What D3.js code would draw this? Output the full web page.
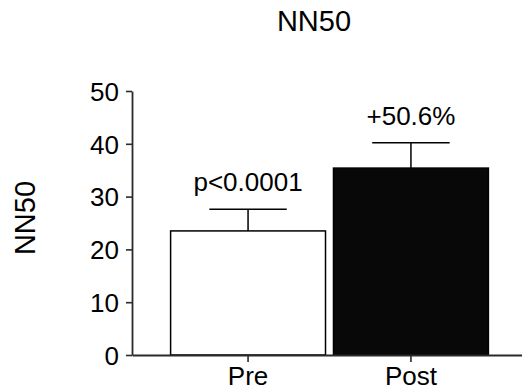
<!DOCTYPE html>
<html>
<head>
<meta charset="utf-8">
<script src="https://cdn.jsdelivr.net/npm/d3@7/dist/d3.min.js"></script>
<style>
  html, body { margin: 0; padding: 0; background: #fff; }
  svg { display: block; font-family: "Liberation Sans", Arial, sans-serif; }
</style>
</head>
<body>
<svg id="chart" width="522" height="392"></svg>
<script>
// NN50 before and after intervention (mean with upper SEM bar)
const categories = ["Pre", "Post"];
const means = [23.5, 35.4];
const sem = [4.1, 4.8];
const barFills = ["#ffffff", "#080808"];
const annotations = ["p<0.0001", "+50.6%"];
const yTicks = [0, 10, 20, 30, 40, 50];

const svg = d3.select("#chart");

const x = d3.scaleBand()
  .domain(categories)
  .range([132, 527])
  .paddingInner(0.049)
  .paddingOuter(0.237);

const y = d3.scaleLinear()
  .domain([0, 50])
  .range([355, 91]);

const axisColor = "#2a2a2a";

// Title
svg.append("text")
  .attr("x", 314)
  .attr("y", 31)
  .attr("text-anchor", "middle")
  .attr("font-size", 29)
  .attr("fill", "#000")
  .text("NN50");

// Y-axis title
svg.append("text")
  .attr("transform", "translate(35,218) rotate(-90)")
  .attr("text-anchor", "middle")
  .attr("font-size", 29)
  .attr("fill", "#000")
  .text("NN50");

// Bars
svg.append("g")
  .selectAll("rect")
  .data(categories)
  .join("rect")
  .attr("x", d => x(d))
  .attr("y", (d, i) => y(means[i]))
  .attr("width", x.bandwidth())
  .attr("height", (d, i) => y(0) - y(means[i]))
  .attr("fill", (d, i) => barFills[i])
  .attr("stroke", "#000")
  .attr("stroke-width", 1.5);

// Upper error bars
const err = svg.append("g")
  .attr("stroke", "#000")
  .attr("stroke-width", 1.5)
  .attr("fill", "none");
categories.forEach((c, i) => {
  const cx = x(c) + x.bandwidth() / 2;
  const capHalf = x.bandwidth() / 4;
  err.append("line")
    .attr("x1", cx).attr("x2", cx)
    .attr("y1", y(means[i])).attr("y2", y(means[i] + sem[i]));
  err.append("line")
    .attr("x1", cx - capHalf).attr("x2", cx + capHalf)
    .attr("y1", y(means[i] + sem[i])).attr("y2", y(means[i] + sem[i]));
});

// Annotations above the bars
svg.append("g")
  .selectAll("text")
  .data(categories)
  .join("text")
  .attr("x", d => x(d) + x.bandwidth() / 2)
  .attr("y", (d, i) => y(means[i] + sem[i]) - 18)
  .attr("text-anchor", "middle")
  .attr("font-size", 26)
  .attr("fill", "#000")
  .text((d, i) => annotations[i]);

// Y axis
const yAxis = svg.append("g")
  .attr("transform", "translate(132,0)")
  .call(d3.axisLeft(y).tickValues(yTicks).tickSize(6).tickSizeOuter(0).tickPadding(7));
yAxis.selectAll("text").attr("font-size", 26).attr("fill", "#000").attr("font-family", "inherit").attr("dy", "0.36em");
yAxis.selectAll("line").attr("stroke", axisColor).attr("stroke-width", 1.6);
yAxis.select(".domain").attr("stroke", axisColor).attr("stroke-width", 1.8);

// X axis
const xAxis = svg.append("g")
  .attr("transform", "translate(0,355)")
  .call(d3.axisBottom(x).tickSize(7).tickSizeOuter(0).tickPadding(5));
xAxis.selectAll("text").attr("font-size", 26).attr("fill", "#000").attr("font-family", "inherit");
xAxis.selectAll("line").attr("stroke", axisColor).attr("stroke-width", 1.6);
xAxis.select(".domain").attr("stroke", axisColor).attr("stroke-width", 1.8);
</script>
</body>
</html>
